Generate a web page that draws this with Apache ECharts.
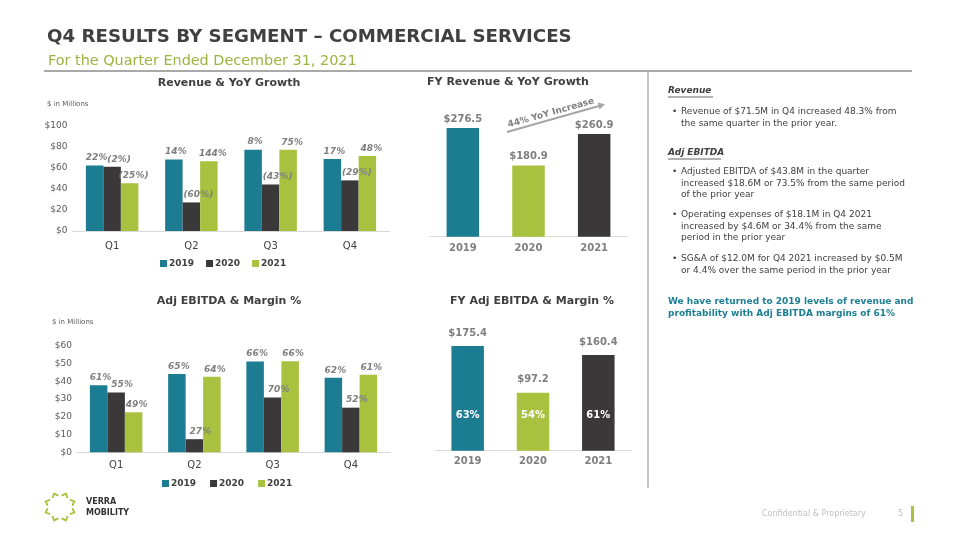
<!DOCTYPE html>
<html><head><meta charset="utf-8">
<script src="https://cdn.jsdelivr.net/npm/echarts@6/dist/echarts.min.js"></script>
<style>html,body{margin:0;padding:0;background:#fff}#c{width:960px;height:540px}</style>
</head><body><div id="c"></div>
<script>
// ---------- data ----------
const quarters = ['Q1', 'Q2', 'Q3', 'Q4'];
const years = ['2019', '2020', '2021'];
const rev2019 = [62.3, 68.2, 77.5, 68.5];
const rev2020 = [61.2, 27.2, 44.3, 48.2];
const rev2021 = [45.5, 66.5, 77.4, 71.5];
const revGrowth2019 = ['22%', '14%', '8%', '17%'];
const revGrowth2020 = ['(2%)', '(60%)', '(43%)', '(29%)'];
const revGrowth2021 = ['(25%)', '144%', '75%', '48%'];
const ebitda2019 = [37.9, 44.2, 51.2, 42.1];
const ebitda2020 = [33.7, 7.4, 30.9, 25.2];
const ebitda2021 = [22.6, 42.6, 51.4, 43.8];
const margin2019 = ['61%', '65%', '66%', '62%'];
const margin2020 = ['55%', '27%', '70%', '52%'];
const margin2021 = ['49%', '64%', '66%', '61%'];
const fyYears = ['2019', '2020', '2021'];
const fyRevenue = [276.5, 180.9, 260.9];
const fyEbitda = [175.4, 97.2, 160.4];
const fyMargin = ['63%', '54%', '61%'];
const revAxis = { min: 0, max: 100, interval: 20 };
const ebitdaAxis = { min: 0, max: 60, interval: 10 };

// ---------- styles ----------
const FF = '"DejaVu Sans", Verdana, sans-serif';
const C19 = '#1c7d92', C20 = '#3b3839', C21 = '#a8c23f';
const fyColors = [C19, C21, C20];

function qSeries(name, data, labels, color, idx, offX) {
  return {
    type: 'bar', name, data, xAxisIndex: idx, yAxisIndex: idx,
    barWidth: 17.5, barGap: '0%', itemStyle: { color },
    label: { show: true, position: 'top', distance: 3, offset: [offX, 0],
      formatter: p => labels[p.dataIndex],
      fontFamily: FF, fontSize: 9, fontStyle: 'italic', fontWeight: 'bold', color: '#7f7f7f' }
  };
}
function fySeries(name, data, idx, dist) {
  return {
    type: 'bar', name, xAxisIndex: idx, yAxisIndex: idx, barWidth: 32.5,
    data: data.map((v, i) => ({ value: v, itemStyle: { color: fyColors[i] } })),
    label: { show: true, position: 'top', distance: dist, formatter: p => '$' + p.value.toFixed(1),
      fontFamily: FF, fontSize: 10, fontWeight: 'bold', color: '#7f7f7f' }
  };
}
function qYAxis(idx, ax) {
  return { type: 'value', gridIndex: idx, min: ax.min, max: ax.max, interval: ax.interval,
    axisLine: { show: false }, axisTick: { show: false }, splitLine: { show: false },
    axisLabel: { formatter: v => '$' + v, fontFamily: FF, fontSize: 9, color: '#595959', margin: 5 } };
}
function catXAxis(idx, cats, bold, color, margin) {
  return { type: 'category', gridIndex: idx, data: cats,
    axisLine: { lineStyle: { color: '#d9d9d9' } }, axisTick: { show: false },
    axisLabel: { fontFamily: FF, fontSize: 10, fontWeight: bold ? 'bold' : 'normal', color, margin } };
}
function fyYAxis(idx, max) {
  return { type: 'value', gridIndex: idx, min: 0, max, show: false, splitLine: { show: false } };
}

const txt = (x, y, text, font, fill, align) => ({ type: 'text', x, y,
  style: { text, font, fill, align: align || 'left', verticalAlign: 'middle' } });
const hline = (x1, y1, x2, y2, stroke, lw) => ({ type: 'line', shape: { x1, y1, x2, y2 },
  style: { stroke, lineWidth: lw } });

const bodyFont = '9px ' + FF;
const bodyColor = '#404040';
const graphics = [
  txt(47, 37, 'Q4 RESULTS BY SEGMENT – COMMERCIAL SERVICES', 'bold 18.2px ' + FF, '#404040'),
  txt(48, 61, 'For the Quarter Ended December 31, 2021', '14.4px ' + FF, '#9bb540'),
  hline(44, 71, 912, 71, '#8c8c8c', 1.5),
  hline(648, 72, 648, 488, '#8c8c8c', 1),
  txt(229, 83, 'Revenue & YoY Growth', 'bold 11px ' + FF, '#404040', 'center'),
  txt(508, 82, 'FY Revenue & YoY Growth', 'bold 11px ' + FF, '#404040', 'center'),
  txt(229, 301, 'Adj EBITDA & Margin %', 'bold 11px ' + FF, '#404040', 'center'),
  txt(532, 301, 'FY Adj EBITDA & Margin %', 'bold 11px ' + FF, '#404040', 'center'),
  txt(47, 104, '$ in Millions', '7px ' + FF, '#595959'),
  txt(52, 322, '$ in Millions', '7px ' + FF, '#595959'),
  // arrow annotation
  { type: 'polyline', shape: { points: [[507, 132], [599, 106]] }, style: { stroke: '#a6a6a6', lineWidth: 2 } },
  { type: 'polygon', shape: { points: [[605, 104.3], [597.6, 102.6], [599.6, 109.6]] }, style: { fill: '#a6a6a6' } },
  { type: 'text', x: 551, y: 113, rotation: 0.274,
    style: { text: '44% YoY Increase', font: 'bold 9px ' + FF, fill: '#7f7f7f', align: 'center', verticalAlign: 'middle' } },
  // right panel
  txt(668, 91, 'Revenue', 'italic bold 9px ' + FF, bodyColor),
  hline(668, 97, 713, 97, bodyColor, 0.8),
  txt(672, 112, '•', bodyFont, bodyColor),
  txt(681, 112, 'Revenue of $71.5M in Q4 increased 48.3% from', bodyFont, bodyColor),
  txt(681, 123.5, 'the same quarter in the prior year.', bodyFont, bodyColor),
  txt(668, 153, 'Adj EBITDA', 'italic bold 9px ' + FF, bodyColor),
  hline(668, 159, 721, 159, bodyColor, 0.8),
  txt(672, 172, '•', bodyFont, bodyColor),
  txt(681, 172, 'Adjusted EBITDA of $43.8M in the quarter', bodyFont, bodyColor),
  txt(681, 183.3, 'increased $18.6M or 73.5% from the same period', bodyFont, bodyColor),
  txt(681, 194.6, 'of the prior year', bodyFont, bodyColor),
  txt(672, 215, '•', bodyFont, bodyColor),
  txt(681, 215, 'Operating expenses of $18.1M in Q4 2021', bodyFont, bodyColor),
  txt(681, 226.3, 'increased by $4.6M or 34.4% from the same', bodyFont, bodyColor),
  txt(681, 237.6, 'period in the prior year', bodyFont, bodyColor),
  txt(672, 259, '•', bodyFont, bodyColor),
  txt(681, 259, 'SG&A of $12.0M for Q4 2021 increased by $0.5M', bodyFont, bodyColor),
  txt(681, 270.3, 'or 4.4% over the same period in the prior year', bodyFont, bodyColor),
  txt(668, 302, 'We have returned to 2019 levels of revenue and', 'bold 9px ' + FF, '#1c7f93'),
  txt(668, 313.5, 'profitability with Adj EBITDA margins of 61%', 'bold 9px ' + FF, '#1c7f93'),
  // footer
  txt(762, 514, 'Confidential & Proprietary', '8px ' + FF, '#bfbfbf'),
  txt(898, 514, '5', '8px ' + FF, '#bfbfbf'),
  { type: 'rect', shape: { x: 911, y: 506, width: 3, height: 16 }, style: { fill: '#a8c23f' } },
  txt(86, 502, 'VERRA', 'bold 8px ' + FF, '#333333'),
  txt(86, 513, 'MOBILITY', 'bold 8px ' + FF, '#333333'),
];
// logo chevrons
for (let i = 0; i < 8; i++) {
  const a = i * Math.PI / 4 + Math.PI / 8;
  const cx = 60 + 14 * Math.cos(a), cy = 507 + 13 * Math.sin(a);
  graphics.push({ type: 'polyline', x: cx, y: cy, rotation: -a,
    shape: { points: [[-2, -3.2], [1.5, 0], [-2, 3.2]] },
    style: { stroke: '#a8c23f', lineWidth: 1.8, fill: null } });
}

const option = {
  animation: false,
  backgroundColor: '#ffffff',
  textStyle: { fontFamily: FF },
  grid: [
    { left: 72.5, top: 126, width: 317, height: 105 },
    { left: 430, top: 118.7, width: 197, height: 118 },
    { left: 77, top: 346, width: 313, height: 106.3 },
    { left: 435, top: 331.3, width: 196, height: 119.4 }
  ],
  xAxis: [
    catXAxis(0, quarters, false, '#404040', 10),
    catXAxis(1, fyYears, true, '#7f7f7f', 7),
    catXAxis(2, quarters, false, '#404040', 8),
    catXAxis(3, fyYears, true, '#7f7f7f', 6)
  ],
  yAxis: [qYAxis(0, revAxis), fyYAxis(1, 300), qYAxis(2, ebitdaAxis), fyYAxis(3, 200)],
  legend: [
    { data: years, left: 155, top: 254, itemWidth: 7, itemHeight: 7, itemGap: 12, icon: 'rect', selectedMode: false,
      textStyle: { fontFamily: FF, fontSize: 9, fontWeight: 'bold', color: '#404040', padding: [0, 0, 0, -3] } },
    { data: years, left: 157, top: 474, itemWidth: 7, itemHeight: 7, itemGap: 14, icon: 'rect', selectedMode: false,
      textStyle: { fontFamily: FF, fontSize: 9, fontWeight: 'bold', color: '#404040', padding: [0, 0, 0, -3] } }
  ],
  series: [
    qSeries('2019', rev2019, revGrowth2019, C19, 0, 2),
    qSeries('2020', rev2020, revGrowth2020, C20, 0, 7),
    qSeries('2021', rev2021, revGrowth2021, C21, 0, 4),
    fySeries('FY Revenue', fyRevenue, 1, 4),
    qSeries('2019', ebitda2019, margin2019, C19, 2, 2),
    qSeries('2020', ebitda2020, margin2020, C20, 2, 6),
    qSeries('2021', ebitda2021, margin2021, C21, 2, 3),
    fySeries('FY Adj EBITDA', fyEbitda, 3, 8),
    { type: 'bar', name: 'FY Margin', xAxisIndex: 3, yAxisIndex: 3, barWidth: 32.5, barGap: '-100%',
      data: fyEbitda.map(v => ({ value: v, itemStyle: { color: 'transparent' } })),
      label: { show: true, position: 'insideBottom', distance: 30, formatter: p => fyMargin[p.dataIndex],
        fontFamily: FF, fontSize: 10, fontWeight: 'bold', color: '#ffffff' }, z: 5 }
  ],
  graphic: graphics
};
const chart = echarts.init(document.getElementById('c'), null, { renderer: 'canvas' });
chart.setOption(option);
</script></body></html>
